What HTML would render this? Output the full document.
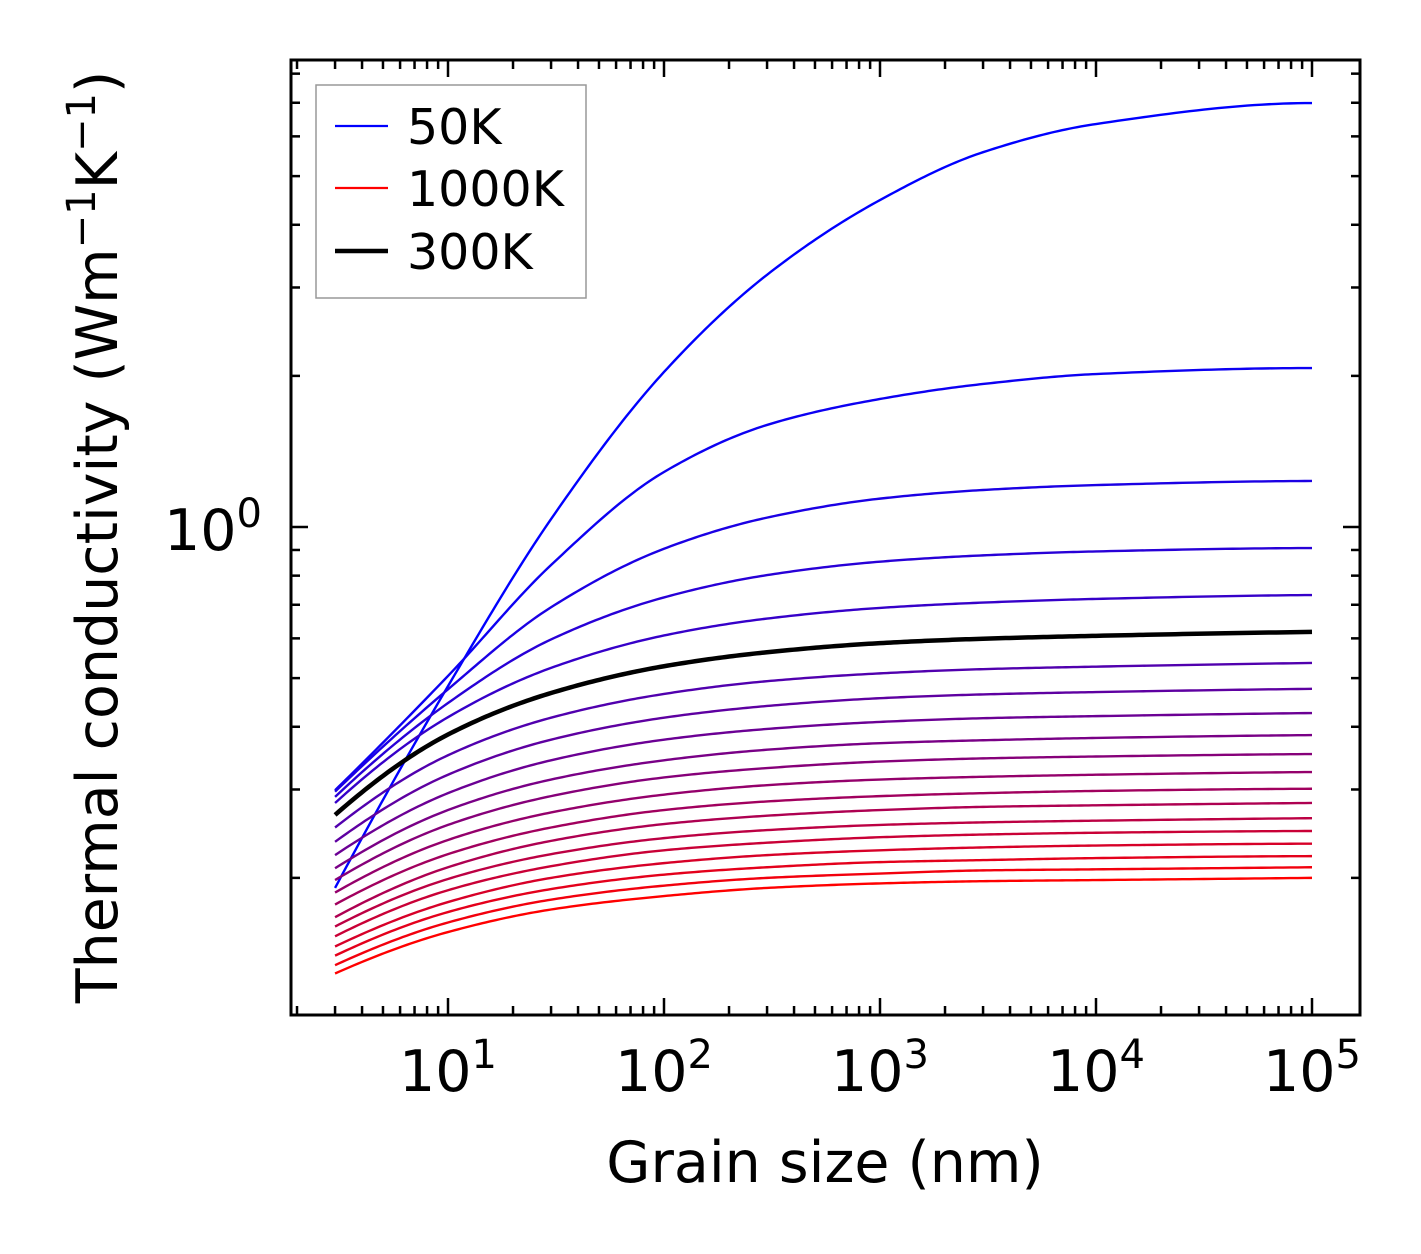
<!DOCTYPE html>
<html><head><meta charset="utf-8"><style>
html,body{margin:0;padding:0;background:#fff;}
svg{display:block;font-family:"DejaVu Sans","Liberation Sans",sans-serif;}
</style></head><body>
<svg id="chart" width="1421" height="1254" viewBox="0 0 1421 1254" xmlns="http://www.w3.org/2000/svg">
<rect x="0" y="0" width="1421" height="1254" fill="#fff"/>
<g id="curves"></g>
<g id="ticks"></g>
<rect x="291" y="60" width="1069" height="955" fill="none" stroke="#000" stroke-width="3"/>
<g id="labels"></g>
<text x="825" y="1182" font-size="57" text-anchor="middle">Grain size (nm)</text>
<text transform="translate(117,537) rotate(-90)" font-size="57" text-anchor="middle">Thermal conductivity (Wm<tspan dy="-22" font-size="40">−1</tspan><tspan dy="22">K</tspan><tspan dy="-22" font-size="40">−1</tspan><tspan dy="22">)</tspan></text>
<g>
<rect x="316" y="85" width="270" height="213" fill="#fff" stroke="#999" stroke-width="1.5"/>
<line x1="335" y1="126" x2="388" y2="126" stroke="#0000ff" stroke-width="2.2"/>
<text x="407" y="144" font-size="49">50K</text>
<line x1="335" y1="188" x2="388" y2="188" stroke="#ff0000" stroke-width="2.2"/>
<text x="407" y="206" font-size="49">1000K</text>
<line x1="335" y1="251" x2="388" y2="251" stroke="#000" stroke-width="4.5"/>
<text x="407" y="269" font-size="49">300K</text>
</g>
</svg>
<script>
const grainSizes = [3, 10, 30, 100, 300, 1000, 3000, 10000, 100000];
const temperatures = [50,100,150,200,250,300,350,400,450,500,550,600,650,700,750,800,850,900,950,1000];
const k50 = [0.191,0.482,1.037,2.036,3.18,4.48,5.58,6.35,6.99];
const k100 = [0.299,0.505,0.840,1.287,1.597,1.799,1.927,2.017,2.073];
const k150 = [0.297,0.475,0.692,0.905,1.044,1.139,1.185,1.212,1.235];
const k200 = [0.290,0.446,0.597,0.724,0.802,0.853,0.878,0.894,0.908];
const k250 = [0.282,0.418,0.524,0.608,0.657,0.690,0.707,0.719,0.732];
const k300 = [0.267,0.386,0.467,0.528,0.563,0.587,0.599,0.607,0.618];
const k350 = [0.252,0.351,0.417,0.465,0.493,0.511,0.521,0.527,0.536];
const k400 = [0.236,0.321,0.377,0.417,0.440,0.456,0.464,0.469,0.476];
const k450 = [0.222,0.295,0.343,0.377,0.396,0.409,0.416,0.420,0.426];
const k500 = [0.209,0.273,0.314,0.343,0.360,0.371,0.376,0.380,0.385];
const k550 = [0.198,0.255,0.291,0.317,0.331,0.341,0.346,0.349,0.353];
const k600 = [0.187,0.238,0.270,0.293,0.306,0.314,0.318,0.321,0.325];
const k650 = [0.177,0.223,0.252,0.273,0.284,0.291,0.295,0.298,0.301];
const k700 = [0.167,0.210,0.237,0.256,0.266,0.273,0.277,0.279,0.282];
const k750 = [0.160,0.199,0.223,0.240,0.249,0.255,0.258,0.260,0.263];
const k800 = [0.153,0.189,0.211,0.227,0.235,0.241,0.244,0.246,0.248];
const k850 = [0.146,0.179,0.200,0.214,0.222,0.227,0.230,0.232,0.234];
const k900 = [0.140,0.171,0.190,0.203,0.210,0.215,0.217,0.219,0.221];
const k950 = [0.134,0.163,0.181,0.193,0.200,0.204,0.207,0.208,0.210];
const k1000 = [0.129,0.156,0.173,0.184,0.191,0.195,0.197,0.198,0.200];
const seriesList = [k50,k100,k150,k200,k250,k300,k350,k400,k450,k500,k550,k600,k650,k700,k750,k800,k850,k900,k950,k1000];
const xMajorLabels = ["1","2","3","4","5"];
const yMajorLabels = ["0"];

const NS = "http://www.w3.org/2000/svg";
function xScale(d){ return 448 + 216*(Math.log10(d) - 1); }
function yScale(k){ return 527 - 502*Math.log10(k); }

function pchipPath(px, py){
  const n = px.length, h = [], dl = [], m = new Array(n);
  for(let i=0;i<n-1;i++){ h.push(px[i+1]-px[i]); dl.push((py[i+1]-py[i])/h[i]); }
  for(let i=1;i<n-1;i++){
    if(dl[i-1]*dl[i] <= 0){ m[i]=0; continue; }
    const w1 = 2*h[i]+h[i-1], w2 = h[i]+2*h[i-1];
    m[i] = (w1+w2)/(w1/dl[i-1] + w2/dl[i]);
  }
  m[0] = ((2*h[0]+h[1])*dl[0] - h[0]*dl[1])/(h[0]+h[1]);
  if(m[0]*dl[0] <= 0) m[0]=0;
  m[n-1] = ((2*h[n-2]+h[n-3])*dl[n-2] - h[n-2]*dl[n-3])/(h[n-2]+h[n-3]);
  if(m[n-1]*dl[n-2] <= 0) m[n-1]=0;
  let p = "M"+px[0].toFixed(2)+","+py[0].toFixed(2);
  for(let j=0;j<n-1;j++){
    const steps = 30;
    for(let s=1;s<=steps;s++){
      const t = s/steps, t2=t*t, t3=t2*t;
      const y = (2*t3-3*t2+1)*py[j] + (t3-2*t2+t)*h[j]*m[j] + (-2*t3+3*t2)*py[j+1] + (t3-t2)*h[j]*m[j+1];
      p += " L"+(px[j]+t*h[j]).toFixed(2)+","+y.toFixed(2);
    }
  }
  return p;
}

const curves = document.getElementById("curves");
let blackPath = null;
seriesList.forEach((vals, i) => {
  const px = grainSizes.map(xScale), py = vals.map(yScale);
  const path = document.createElementNS(NS, "path");
  path.setAttribute("d", pchipPath(px, py));
  path.setAttribute("fill", "none");
  path.setAttribute("stroke-linejoin", "round");
  const f = i/(seriesList.length-1);
  const col = "rgb("+Math.round(255*f)+",0,"+Math.round(255*(1-f))+")";
  if(temperatures[i]===300){ path.setAttribute("stroke","#000"); path.setAttribute("stroke-width","4.5"); blackPath = path; }
  else { path.setAttribute("stroke", col); path.setAttribute("stroke-width","2.4"); }
  
  
  curves.appendChild(path);
});
if(blackPath) curves.appendChild(blackPath);

const ticks = document.getElementById("ticks");
function tick(x1,y1,x2,y2,name){
  const l = document.createElementNS(NS,"line");
  l.setAttribute("x1",x1);l.setAttribute("y1",y1);l.setAttribute("x2",x2);l.setAttribute("y2",y2);
  l.setAttribute("stroke","#000");l.setAttribute("stroke-width","2.5");
  
  
  ticks.appendChild(l);
}
const L=291,R=1360,T=60,B=1015;
for(let e=0;e<=5;e++){
  for(let j=1;j<10;j++){
    const d=j*Math.pow(10,e), x=xScale(d);
    if(x<L+1||x>R-1) continue;
    const len = j===1?17:9;
    tick(x,B,x,B-len,'x-tick'); tick(x,T,x,T+len,'x-tick-top');
  }
}
for(let e=-1;e<=0;e++){
  for(let j=1;j<10;j++){
    const k=j*Math.pow(10,e), y=yScale(k);
    if(y<T+1||y>B-1) continue;
    const len = (j===1&&e===0)?17:9;
    tick(L,y,L+len,y,'y-tick'); tick(R,y,R-len,y,'y-tick-right');
  }
}
const labels = document.getElementById("labels");
xMajorLabels.forEach(ex => {
  const t = document.createElementNS(NS,"text");
  t.setAttribute("x", xScale(Math.pow(10, +ex)));
  t.setAttribute("y", 1091);
  t.setAttribute("font-size","57");
  t.setAttribute("text-anchor","middle");
  t.innerHTML = '10<tspan dy="-23" font-size="40">'+ex+'</tspan>';
  
  
  labels.appendChild(t);
});
yMajorLabels.forEach(ex => {
  const t = document.createElementNS(NS,"text");
  t.setAttribute("x", 262);
  t.setAttribute("y", yScale(Math.pow(10, +ex)) + 23);
  t.setAttribute("font-size","57");
  t.setAttribute("text-anchor","end");
  t.innerHTML = '10<tspan dy="-23" font-size="40">'+ex+'</tspan>';
  
  
  labels.appendChild(t);
});
</script>
</body></html>
